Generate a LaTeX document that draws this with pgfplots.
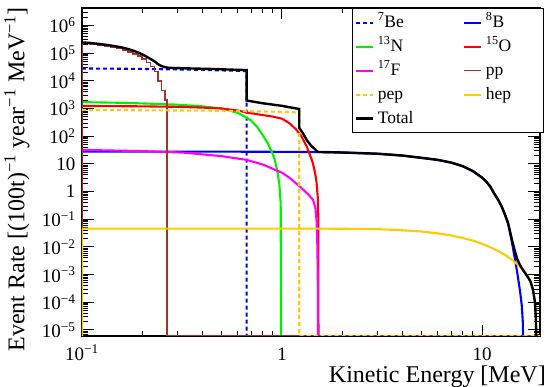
\documentclass[border=0pt]{standalone}
\usepackage{fontspec}
\setmainfont{Liberation Serif}
\usepackage{pgfplots}
\pgfplotsset{compat=1.18}
\definecolor{rorange}{RGB}{255,204,0}
\definecolor{rbrown}{RGB}{165,50,45}
\definecolor{rgreen}{RGB}{0,240,0}
\definecolor{rmag}{RGB}{255,0,255}
\definecolor{rblue}{RGB}{0,0,255}
\definecolor{rred}{RGB}{255,0,0}
\newcommand{\mytl}[1]{\pgfmathtruncatemacro\ex{round(#1)}\ifnum\ex=0 1\else\ifnum\ex=1 10\else\ifnum\ex<0 10\textsuperscript{−\the\numexpr-\ex\relax}\else 10\textsuperscript{\ex}\fi\fi\fi}
\tikzset{tk/.style={black, line width=1pt}}
\begin{document}
\begin{tikzpicture}
\path[use as bounding box] (0pt,0pt) rectangle (548pt,387pt);
\begin{axis}[
  at={(82pt,51pt)}, anchor=south west, scale only axis,
  width=458pt, height=328pt,
  xmode=log, ymode=log, log basis x=10, log basis y=10,
  xmin=0.1, xmax=19.5, ymin=6.07e-6, ymax=4.28e6,
  axis line style={line width=1.3pt},
  xtick pos=both, ytick pos=both,
  major tick style={draw=black, line width=1pt},
  minor tick style={draw=black, line width=0.8pt},
  major tick length=11pt, minor tick length=6pt,
  xtick={0.1,1,10},
  ytick={1e-5,1e-4,1e-3,1e-2,1e-1,1,10,100,1e3,1e4,1e5,1e6},
  xticklabel={\mytl{\tick}}, yticklabel={\mytl{\tick}},
  ticklabel style={font=\fontsize{19}{19}\selectfont},
  xticklabel style={text height=14pt, inner sep=1pt, yshift=-9pt},
  yticklabel style={xshift=-3pt},
  legend columns=2,
  legend cell align=left,
  legend style={at={(1.009,1)}, anchor=north east, draw=black, line width=1.3pt,
    font=\fontsize{17.5}{18}\selectfont, inner sep=2pt,
    nodes={text height=13pt, text depth=4pt, inner sep=3.5pt},
    /tikz/every even column/.append style={column sep=30pt, nodes={text width=52pt}}},
]
% tick marks drawn on the frame
\foreach \e in {-6,...,6}{\foreach \m in {2,...,9}{%
  \edef\tmp{\noexpand\draw[tk] (axis cs:0.1,\m e\e) -- ++(6pt,0pt); \noexpand\draw[tk] (axis cs:19.5,\m e\e) -- ++(-6pt,0pt);}\tmp}}
\foreach \e in {-5,...,6}{%
  \edef\tmp{\noexpand\draw[tk] (axis cs:0.1,1e\e) -- ++(12pt,0pt); \noexpand\draw[tk] (axis cs:19.5,1e\e) -- ++(-12pt,0pt);}\tmp}
\foreach \v in {0.2,0.3,0.4,0.5,0.6,0.7,0.8,0.9,2,3,4,5,6,7,8,9}{%
  \edef\tmp{\noexpand\draw[tk] (axis cs:\v,6.07e-6) -- ++(0pt,5pt); \noexpand\draw[tk] (axis cs:\v,4.28e6) -- ++(0pt,-5pt);}\tmp}
\foreach \v in {1,10}{%
  \edef\tmp{\noexpand\draw[tk] (axis cs:\v,6.07e-6) -- ++(0pt,10pt); \noexpand\draw[tk] (axis cs:\v,4.28e6) -- ++(0pt,-10pt);}\tmp}
% 7Be
\addplot[rblue, line width=2.1pt, dash pattern=on 4pt off 3pt] coordinates {
(0.1,2.8e4)(0.2,2.7e4)(0.4,2.5e4)(0.665,2.25e4)(0.665,1e-6)};
\addlegendentry{\textsuperscript{7}Be}
% 8B
\addplot[rblue, line width=2.1pt] coordinates {
(0.1,28)(0.5,27.7)(1,27.3)(1.5,26.7)(2,25.8)(3,23.3)(4,20)(5,16.5)(6,14)(7,11.2)(8,8.3)(9,5.5)(10,3.2)(10.5,2.3)(11,1.5)(11.5,0.85)(12,0.52)(12.5,0.3)(13,0.15)(13.5,0.07)(14,0.02)(14.5,5e-3)(15,1.2e-3)(15.5,2.5e-4)(15.8,8e-5)(16.0,2e-5)(16.1,1e-6)};
\addlegendentry{\textsuperscript{8}B}
% 13N
\addplot[rgreen, line width=2.1pt] coordinates {
(0.1,1700)(0.15,1620)(0.2,1530)(0.3,1380)(0.4,1200)(0.5,1000)(0.6,700)(0.665,470)(0.7,370)(0.75,220)(0.8,110)(0.85,55)(0.9,22)(0.92,14)(0.95,5)(0.97,1.8)(0.985,0.4)(0.99,1e-6)};
\addlegendentry{\textsuperscript{13}N}
% 15O
\addplot[rred, line width=2.1pt] coordinates {
(0.1,1240)(0.2,1200)(0.3,1150)(0.4,1080)(0.5,1000)(0.6,850)(0.665,720)(0.8,580)(0.9,510)(1.0,430)(1.1,280)(1.18,170)(1.25,100)(1.33,42)(1.4,16)(1.43,10)(1.47,4)(1.49,2)(1.51,0.6)(1.52,0.1)(1.522,1e-6)};
\addlegendentry{\textsuperscript{15}O}
% 17F
\addplot[rmag, line width=2.1pt] coordinates {
(0.1,32)(0.2,29)(0.32,25.6)(0.5,19)(0.665,14)(0.8,9.5)(1.0,4.8)(1.1,3.0)(1.23,1.5)(1.35,0.8)(1.43,0.5)(1.47,0.25)(1.49,0.08)(1.50,0.02)(1.505,5e-3)(1.51,8e-4)(1.515,1e-6)};
\addlegendentry{\textsuperscript{17}F}
% pp
\addplot[rbrown, line width=1.6pt, const plot mark left] coordinates {
(0.1,6.1e-6)(0.1,2.2e5)(0.11,2.05e5)(0.12,1.9e5)(0.13,1.75e5)(0.14,1.6e5)(0.15,1.45e5)(0.16,1.3e5)(0.17,1.12e5)(0.18,9.5e4)(0.19,7.8e4)(0.2,6.2e4)(0.21,4.6e4)(0.22,3.3e4)(0.23,2.2e4)(0.24,1.0e4)(0.25,4.5e3)(0.26,2e3)(0.266,6.1e-6)(19.5,6.1e-6)};
\addlegendentry{pp}
% pep
\addplot[rorange, line width=2.1pt, dash pattern=on 4pt off 3pt] coordinates {
(0.1,890)(0.5,830)(1.0,760)(1.22,720)(1.22,6.1e-6)(19.5,6.1e-6)};
\addlegendentry{pep}
% hep
\addplot[rorange, line width=2.1pt] coordinates {
(0.1,6.1e-6)(0.1,0.046)(1,0.046)(2,0.0455)(3,0.044)(4,0.040)(5,0.036)(6,0.031)(7,0.026)(8,0.021)(9,0.017)(10,0.013)(11,0.0098)(12,0.0072)(13,0.0052)(14,0.0036)(15,0.0024)(16,0.0015)(17,8e-4)(17.5,5.5e-4)(18,2.8e-4)(18.4,1e-4)(18.6,2.5e-5)(18.75,1e-6)};
\addlegendentry{hep}
% Total
\addplot[black, line width=2.4pt] coordinates {
(0.1,2.45e5)(0.11,2.33e5)(0.12,2.18e5)(0.13,2.03e5)(0.14,1.88e5)(0.15,1.73e5)(0.16,1.58e5)(0.17,1.41e5)(0.18,1.24e5)(0.19,1.07e5)(0.2,9.1e4)(0.21,7.5e4)(0.22,6.2e4)(0.23,5.1e4)(0.24,4e4)(0.25,3.4e4)(0.26,3.15e4)(0.27,2.95e4)(0.35,2.8e4)(0.45,2.68e4)(0.55,2.55e4)(0.665,2.45e4)(0.665,1950)(0.8,1550)(1.0,1250)(1.1,1100)(1.22,960)(1.22,200)(1.27,130)(1.33,72)(1.4,45)(1.45,36)(1.5,28)(1.52,27)(2,25.8)(3,23.3)(4,20)(5,16.5)(6,14)(7,11.2)(8,8.3)(9,5.5)(10,3.21)(10.5,2.31)(11,1.51)(11.5,0.86)(12,0.53)(12.5,0.306)(13,0.155)(13.5,0.074)(14,0.0236)(14.5,0.0085)(15,0.0036)(15.5,0.0022)(16,0.0015)(17,8e-4)(17.5,5.5e-4)(18,2.8e-4)(18.4,1e-4)(18.6,2.5e-5)(18.75,1e-6)};
\addlegendentry{Total}
\end{axis}
\node[rotate=90, anchor=north east, inner sep=0pt, font=\fontsize{24}{24}\selectfont] at (4pt,380pt) {Event Rate [(100t)\textsuperscript{−1} year\textsuperscript{−1} MeV\textsuperscript{−1}]};
\node[anchor=base east, inner sep=0pt, font=\fontsize{24}{24}\selectfont] at (546pt,4pt) {Kinetic Energy [MeV]};
\end{tikzpicture}
\end{document}
